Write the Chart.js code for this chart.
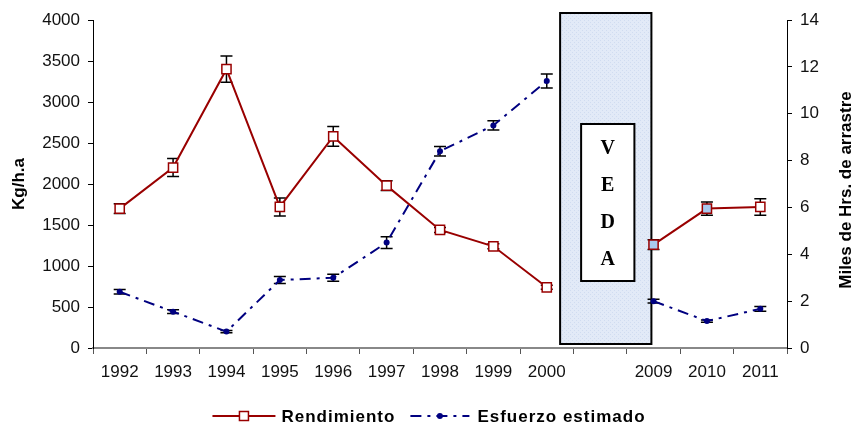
<!DOCTYPE html>
<html>
<head>
<meta charset="utf-8">
<script src="https://cdn.jsdelivr.net/npm/chart.js@4.4.1/dist/chart.umd.min.js"></script>
<style>
  html, body { margin: 0; padding: 0; background: #fff; }
  canvas { display: block; }
</style>
</head>
<body>
<canvas id="chart" width="858" height="428"></canvas>
<script>
// --- data ---
const years = ['1992', '1993', '1994', '1995', '1996', '1997', '1998', '1999', '2000', '', '2009', '2010', '2011'];
const rendimiento = [1700, 2200, 3400, 1720, 2580, 1980, 1440, 1240, 740, null, 1260, 1700, 1720];
const rendimientoErr = [60, 110, 160, 110, 120, 60, 30, 30, 25, null, 60, 80, 100];
const esfuerzo = [2.4, 1.55, 0.7, 2.9, 3.0, 4.5, 8.4, 9.5, 11.4, null, 2.0, 1.15, 1.67];
const esfuerzoErr = [0.1, 0.08, 0.05, 0.15, 0.15, 0.25, 0.2, 0.2, 0.3, null, 0.08, 0.05, 0.1];
const vedaIndex = 9;
const vedaLetters = ['V', 'E', 'D', 'A'];

const RED = '#990000';
const BLUE = '#000080';
const FONT = "'Liberation Sans', Arial, sans-serif";
const DASH = [11, 6, 3, 6];

// light blue point fill for the two post-veda years
const rendFill = rendimiento.map((v, i) => (i === 10 || i === 11) ? '#a9c9ee' : '#ffffff');

function makePattern(ctx) {
    const c = document.createElement('canvas');
    c.width = 4; c.height = 4;
    const p = c.getContext('2d');
    p.fillStyle = '#e2eaf7';
    p.fillRect(0, 0, 4, 4);
    p.fillStyle = '#d0dcf0';
    p.fillRect(0, 0, 1, 1);
    p.fillRect(2, 2, 1, 1);
    return ctx.createPattern(c, 'repeat');
}

function drawErrors(ctx, x, scale, values, errs) {
    ctx.save();
    ctx.strokeStyle = '#000';
    ctx.lineWidth = 1.5;
    values.forEach((v, i) => {
        if (v === null) return;
        const px = x.getPixelForValue(i);
        const top = scale.getPixelForValue(v + errs[i]);
        const bot = scale.getPixelForValue(v - errs[i]);
        ctx.beginPath();
        ctx.moveTo(px, top); ctx.lineTo(px, bot);
        ctx.moveTo(px - 6, top); ctx.lineTo(px + 6, top);
        ctx.moveTo(px - 6, bot); ctx.lineTo(px + 6, bot);
        ctx.stroke();
    });
    ctx.restore();
}

const extras = {
    id: 'extras',
    beforeDatasetsDraw(chart) {
        const { ctx, chartArea, scales } = chart;
        const x = scales.x;
        const step = x.getPixelForValue(1) - x.getPixelForValue(0);

        // VEDA box
        const bl = x.getPixelForValue(vedaIndex - 1) + step * 0.25;
        const br = x.getPixelForValue(vedaIndex + 1) - step * 0.04;
        const bt = chartArea.top - 7;
        const bb = chartArea.bottom - 4;
        ctx.save();
        ctx.fillStyle = makePattern(ctx);
        ctx.fillRect(bl, bt, br - bl, bb - bt);
        ctx.strokeStyle = '#000';
        ctx.lineWidth = 2;
        ctx.strokeRect(bl, bt, br - bl, bb - bt);

        const il = bl + 21, ir = br - 17, it = 124, ib = 281;
        ctx.fillStyle = '#fff';
        ctx.fillRect(il, it, ir - il, ib - it);
        ctx.strokeRect(il, it, ir - il, ib - it);
        ctx.fillStyle = '#000';
        ctx.font = "bold 20px 'Liberation Serif', 'Times New Roman', serif";
        ctx.textAlign = 'center';
        ctx.textBaseline = 'middle';
        vedaLetters.forEach((l, k) => ctx.fillText(l, (il + ir) / 2, 149 + k * 37));
        ctx.restore();

        drawErrors(ctx, x, scales.y, rendimiento, rendimientoErr);
        drawErrors(ctx, x, scales.y1, esfuerzo, esfuerzoErr);
    },
    afterDraw(chart) {
        const { ctx, chartArea, width } = chart;
        ctx.save();
        ctx.fillStyle = '#000';
        ctx.font = 'bold 17px ' + FONT;
        ctx.textAlign = 'center';
        ctx.textBaseline = 'middle';

        // axis titles, both reading bottom to top
        ctx.save();
        ctx.translate(19, (chartArea.top + chartArea.bottom) / 2);
        ctx.rotate(-Math.PI / 2);
        ctx.fillText('Kg/h.a', 0, 0);
        ctx.restore();
        ctx.save();
        ctx.translate(846, (chartArea.top + chartArea.bottom) / 2 + 6);
        ctx.rotate(-Math.PI / 2);
        ctx.fillText('Miles de Hrs. de arrastre', 0, 0);
        ctx.restore();

        // legend
        ctx.font = 'bold 17px ' + FONT;
        ctx.letterSpacing = '1px';
        ctx.textAlign = 'left';
        const t1 = 'Rendimiento', t2 = 'Esfuerzo estimado';
        const w1 = ctx.measureText(t1).width, w2 = ctx.measureText(t2).width;
        const line1 = 63, line2 = 59;
        const total = line1 + 6 + w1 + 15 + line2 + 8 + w2;
        let lx = width / 2 - total / 2;
        const ly = 416;

        ctx.strokeStyle = RED;
        ctx.lineWidth = 2;
        ctx.beginPath(); ctx.moveTo(lx, ly); ctx.lineTo(lx + line1, ly); ctx.stroke();
        ctx.fillStyle = '#fff';
        ctx.lineWidth = 1.5;
        ctx.fillRect(lx + line1 / 2 - 4.5, ly - 4.5, 9, 9);
        ctx.strokeRect(lx + line1 / 2 - 4.5, ly - 4.5, 9, 9);
        ctx.fillStyle = '#000';
        ctx.fillText(t1, lx + line1 + 6, ly + 1);
        lx += line1 + 6 + w1 + 15;

        ctx.strokeStyle = BLUE;
        ctx.lineWidth = 2;
        ctx.setLineDash(DASH);
        ctx.beginPath(); ctx.moveTo(lx, ly); ctx.lineTo(lx + line2, ly); ctx.stroke();
        ctx.setLineDash([]);
        ctx.fillStyle = BLUE;
        ctx.beginPath(); ctx.arc(lx + line2 / 2, ly, 3, 0, Math.PI * 2); ctx.fill();
        ctx.fillStyle = '#000';
        ctx.fillText(t2, lx + line2 + 8, ly + 1);
        ctx.restore();
    }
};

new Chart(document.getElementById('chart'), {
    type: 'line',
    data: {
        labels: years,
        datasets: [
            {
                label: 'Rendimiento',
                data: rendimiento,
                yAxisID: 'y',
                borderColor: RED,
                borderWidth: 2,
                pointStyle: 'rect',
                pointRadius: 6.5,
                pointBorderWidth: 1.5,
                pointBorderColor: RED,
                pointBackgroundColor: rendFill,
                spanGaps: false,
                tension: 0
            },
            {
                label: 'Esfuerzo estimado',
                data: esfuerzo,
                yAxisID: 'y1',
                borderColor: BLUE,
                borderWidth: 2,
                borderDash: DASH,
                pointStyle: 'circle',
                pointRadius: 3,
                pointBorderWidth: 0,
                pointBackgroundColor: BLUE,
                spanGaps: false,
                tension: 0
            }
        ]
    },
    options: {
        responsive: false,
        animation: false,
        layout: { padding: { top: 20, left: 0, right: 0, bottom: 0 } },
        plugins: {
            legend: { display: false },
            tooltip: { enabled: false }
        },
        scales: {
            x: {
                offset: true,
                grid: { offset: true, drawOnChartArea: false, tickLength: 6, color: '#555' },
                border: { color: '#888', width: 2 },
                ticks: { color: '#111', font: { family: FONT, size: 17 }, padding: 8, maxRotation: 0, autoSkip: false },
                afterFit: s => { s.height = 80; }
            },
            y: {
                position: 'left',
                min: 0, max: 4000,
                grid: { drawOnChartArea: false, tickLength: 5, color: '#000' },
                border: { color: '#000', width: 1 },
                ticks: { stepSize: 500, color: '#111', font: { family: FONT, size: 17 }, padding: 8, callback: v => String(v) },
                afterFit: s => { s.width = 93; }
            },
            y1: {
                position: 'right',
                min: 0, max: 14,
                grid: { drawOnChartArea: false, tickLength: 5, color: '#000' },
                border: { color: '#000', width: 1 },
                ticks: { stepSize: 2, color: '#111', font: { family: FONT, size: 17 }, padding: 8, callback: v => String(v) },
                afterFit: s => { s.width = 71; }
            }
        }
    },
    plugins: [extras]
});
</script>
</body>
</html>
